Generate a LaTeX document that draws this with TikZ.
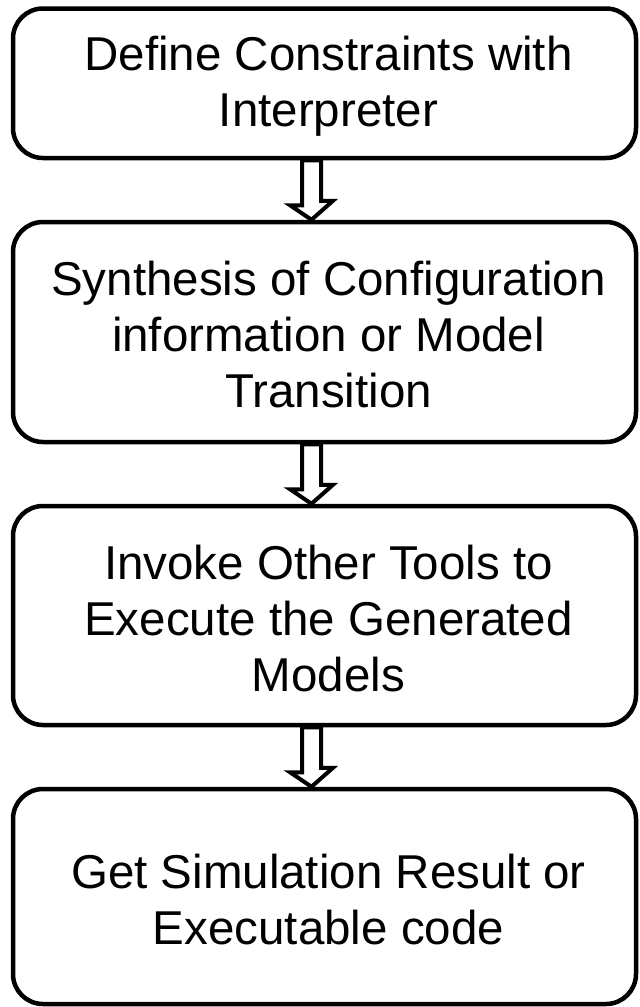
\documentclass[tikz,border=0pt]{standalone}
\usepackage{fontspec}
\setmainfont{Liberation Sans}

% hollow block arrow between two stacked boxes
\newcommand\flowarrow[2]{%
  \coordinate (#1-s) at ([xshift=-13pt]#1.south);
  \coordinate (#2-n) at ([xshift=-13pt]#2.north);
  \draw[hollowarrow] ([xshift=-9.5pt]#1-s) -- ++(0,-45) -- ++(-12,0) -- (#2-n)
    -- ++(21.5,19) -- ++(-12,0) -- ([xshift=9.5pt]#1-s) -- cycle;
}

\begin{document}
\begin{tikzpicture}[x=1pt,y=1pt,
  stage/.style={draw=black, line width=4.5pt, rounded corners=30pt,
    minimum width=623pt, inner sep=0pt},
  stagetext/.style={align=center, inner sep=0pt, xshift=4pt, yshift=-3pt,
    font=\fontsize{47.5}{56}\selectfont},
  hollowarrow/.style={draw=black, fill=white, line width=4pt, line join=miter}]
  \useasboundingbox (0,0) rectangle (640,-1007);
  \node[stage, minimum height=149.5pt,
    label={[stagetext]center:{Define Constraints with\\Interpreter}}]
    (b1) at (324.5,-83.25) {};
  \node[stage, minimum height=220pt,
    label={[stagetext]center:{Synthesis of Configuration\\information or Model\\Transition}}]
    (b2) at (324.5,-332) {};
  \node[stage, minimum height=219pt,
    label={[stagetext]center:{Invoke Other Tools to\\Execute the Generated\\Models}}]
    (b3) at (324.5,-615.5) {};
  \node[stage, minimum height=215pt,
    label={[stagetext]center:{Get Simulation Result or\\Executable code}}]
    (b4) at (324.5,-896.5) {};
  \flowarrow{b1}{b2}
  \flowarrow{b2}{b3}
  \flowarrow{b3}{b4}
\end{tikzpicture}
\end{document}
